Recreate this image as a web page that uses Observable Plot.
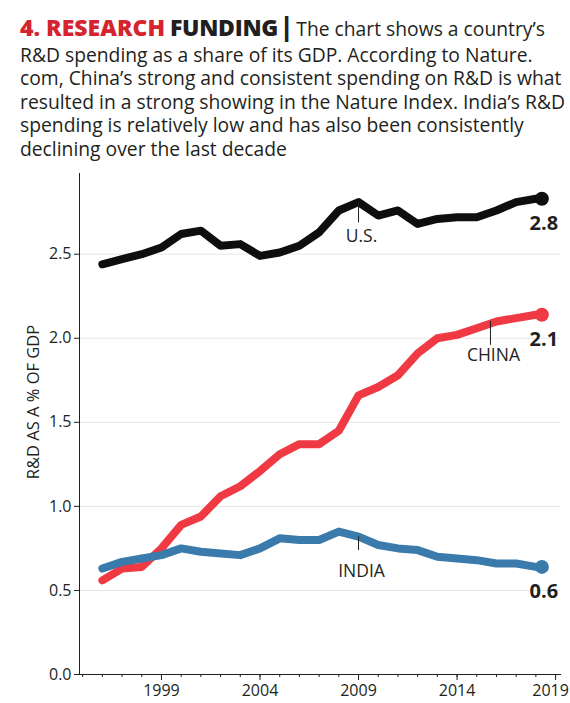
<!DOCTYPE html>
<html>
<head>
<meta charset="utf-8">
<script src="https://cdn.jsdelivr.net/npm/d3@7"></script>
<script src="https://cdn.jsdelivr.net/npm/@observablehq/plot@0.6"></script>
<style>
  body { margin: 0; background: #fff; width: 570px; height: 703px; overflow: hidden; }
  #hdr { position: absolute; left: 20px; top: 0; font-family: "Open Sans", "Noto Sans", sans-serif; color: #231f20; white-space: nowrap; }
  #hdr .l { font-size: 19.3px; line-height: 23.4px; }
  #hdr .l1 { line-height: 28px; padding-top: 12px; }
  .t1 { color: #d5232f; font-weight: 800; font-size: 23px; letter-spacing: 0; }
  .t2 { color: #231f20; font-weight: 800; font-size: 23px; letter-spacing: -0.3px; }
  .bar { font-weight: 800; font-size: 26px; margin-left: -3px; margin-right: -2px; }
  #chart { position: absolute; left: 0; top: 165px; }
</style>
</head>
<body>
<div id="hdr">
  <div class="l l1"><span class="t1">4. RESEARCH</span> <span class="t2">FUNDING</span> <span class="bar">|</span> The chart shows a country’s</div>
  <div class="l">R&amp;D spending as a share of its GDP. According to Nature.</div>
  <div class="l">com, China’s strong and consistent spending on R&amp;D is what</div>
  <div class="l">resulted in a strong showing in the Nature Index. India’s R&amp;D</div>
  <div class="l">spending is relatively low and has also been consistently</div>
  <div class="l">declining over the last decade</div>
</div>
<div id="chart"></div>
<script>
const years = [1996,1997,1998,1999,2000,2001,2002,2003,2004,2005,2006,2007,2008,2009,2010,2011,2012,2013,2014,2015,2016,2017,2018];
const us    = [2.44,2.47,2.50,2.54,2.62,2.64,2.55,2.56,2.49,2.51,2.55,2.63,2.76,2.81,2.73,2.76,2.68,2.71,2.72,2.72,2.76,2.81,2.83];
const china = [0.56,0.63,0.64,0.75,0.89,0.94,1.06,1.12,1.21,1.31,1.37,1.37,1.45,1.66,1.71,1.78,1.91,2.00,2.02,2.06,2.10,2.12,2.14];
const india = [0.63,0.67,0.69,0.71,0.75,0.73,0.72,0.71,0.75,0.81,0.80,0.80,0.85,0.82,0.77,0.75,0.74,0.70,0.69,0.68,0.66,0.66,0.64];
const countries = ["U.S.", "CHINA", "INDIA"];
const seriesValues = [us, china, india];
const endLabels = ["2.8", "2.1", "0.6"];
const annotationYears = [2009, 2016, 2009];
const colors = ["#0e0e0e", "#ef3a44", "#3a7bab"];
const yTicks = [0, 0.5, 1.0, 1.5, 2.0, 2.5];
const xTicks = [1999, 2004, 2009, 2014, 2019];
const minorTicks = [1995,1996,1997,1998,1999,2000,2001,2002,2003,2004,2005,2006,2007,2008,2009,2010,2011,2012,2013,2014,2015,2016,2017,2018,2019];
const yLabel = "R&D AS A % OF GDP";

const rows = countries.flatMap((c, i) => years.map((yr, j) => ({country: c, year: yr, value: seriesValues[i][j]})));
const last = countries.map((c, i) => ({country: c, year: years[years.length - 1], value: seriesValues[i][years.length - 1], label: endLabels[i]}));
const ann = countries.map((c, i) => {
  const j = years.indexOf(annotationYears[i]);
  return {country: c, year: annotationYears[i], value: seriesValues[i][j], label: c};
});

const tickShape = { draw(context, l) { context.moveTo(0, 0); context.lineTo(0, -l); } };
const annLen = {"U.S.": 20, "CHINA": 23, "INDIA": 13};
const annDy = {"U.S.": 34, "CHINA": 34, "INDIA": 35};
const annDx = {"U.S.": 0, "CHINA": -6, "INDIA": 0};

const font = "'Open Sans', 'Noto Sans', sans-serif";
const ink = "#231f20";

const chart = Plot.plot({
  width: 570,
  height: 538,
  marginLeft: 79,
  marginRight: 10,
  marginTop: 8,
  marginBottom: 29,
  style: { fontFamily: font, color: ink, background: "white", overflow: "visible" },
  x: { domain: [1994.84, 2019.25] },
  y: { domain: [0, 2.98] },
  color: { domain: countries, range: colors },
  marks: [
    Plot.gridY(yTicks.slice(1), { stroke: "#e6e6e6", strokeOpacity: 1, strokeWidth: 1 }),
    Plot.frame({ anchor: "left", stroke: ink }),
    Plot.frame({ anchor: "bottom", stroke: ink }),
    Plot.axisY(yTicks, { tickSize: 5, tickPadding: 3, fontSize: 16, tickFormat: d3.format(".1f"), label: null, stroke: ink }),
    Plot.axisX(minorTicks, { tickSize: 3, text: null, label: null, stroke: ink }),
    Plot.axisX(xTicks, { tickSize: 6, text: null, label: null, stroke: ink }),
    Plot.text(xTicks.slice(0, -1), { x: d => d, frameAnchor: "bottom", lineAnchor: "top", dy: 10, fontSize: 16, fill: ink, text: d => String(d) }),
    Plot.text(xTicks.slice(-1), { x: d => d, frameAnchor: "bottom", lineAnchor: "top", dy: 10, dx: -5, fontSize: 16, fill: ink, text: d => String(d) }),
    Plot.text([yLabel], { frameAnchor: "left", textAnchor: "middle", rotate: -90, dx: -46, dy: -22, fontSize: 16.5, fill: ink }),
    Plot.line(rows, { x: "year", y: "value", z: "country", stroke: "country", strokeWidth: 8, strokeLinejoin: "round", strokeLinecap: "round" }),
    Plot.dot(last, { x: "year", y: "value", fill: "country", r: 7, dx: 6 }),
    Plot.text(last, { x: "year", y: "value", text: "label", dy: 25, dx: 8, fontSize: 20, fontWeight: 700, fill: ink }),
    ...ann.map(a => Plot.vector([a], { x: "year", y: "value", length: annLen[a.country], rotate: 180, anchor: "start", shape: tickShape, stroke: ink, strokeWidth: 1, dx: annDx[a.country] })),
    ...ann.map(a => Plot.text([a], { x: "year", y: "value", text: "label", dy: annDy[a.country], dx: annDx[a.country] + 3, fontSize: 17.5, fill: ink }))
  ]
});
document.getElementById("chart").appendChild(chart);
</script>
</body>
</html>
